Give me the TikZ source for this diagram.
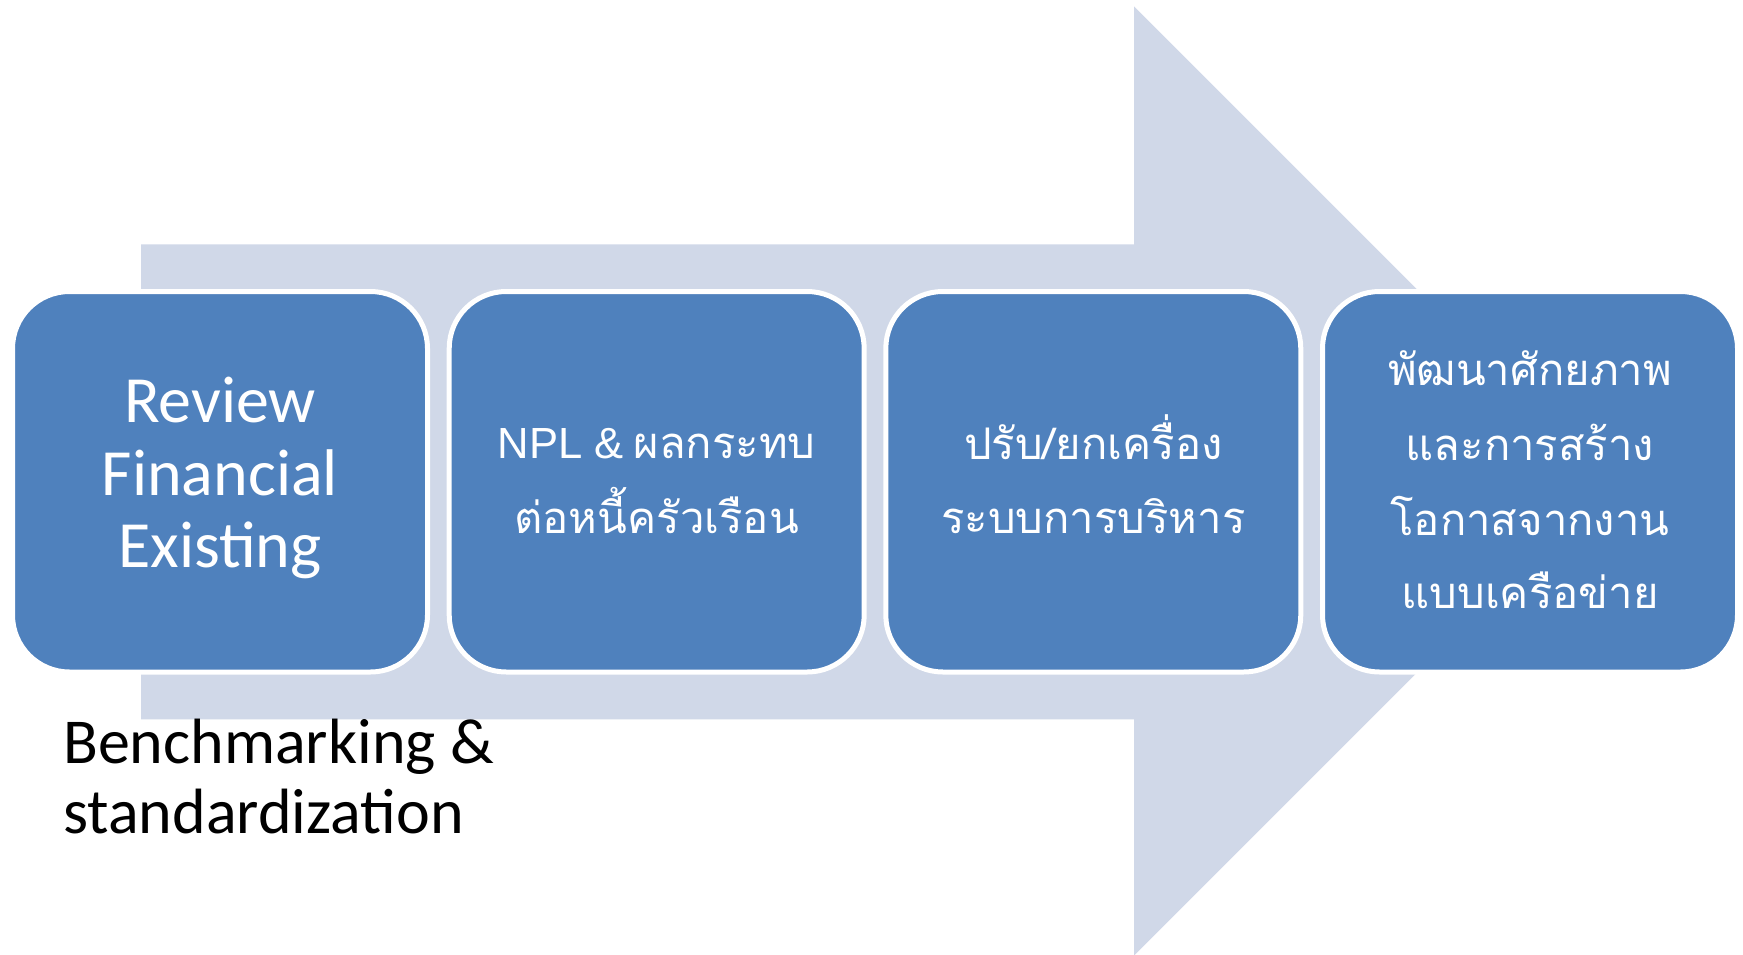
\documentclass[tikz,border=0pt]{standalone}
\usepackage{fontspec}
\setmainfont{Carlito}
\newfontfamily\thaifont[Script=Thai]{Loma}
\newfontfamily\latinfont{Liberation Sans}
\definecolor{arrowfill}{HTML}{D0D8E8}
\definecolor{boxfill}{HTML}{4F81BD}
\tikzset{
  stepbox/.style={rectangle, rounded corners=57pt, fill=boxfill, draw=white, line width=5pt,
    minimum width=415pt, minimum height=380.5pt, inner sep=0pt},
  bigtxt/.style={text=white, font=\fontsize{66}{71}\selectfont, anchor=base, inner sep=0pt},
  thaitxt/.style={text=white, font=\fontsize{43.6}{75}\selectfont, anchor=base, inner sep=0pt},
  blacktxt/.style={text=black, font=\fontsize{64}{71}\selectfont, anchor=base west, inner sep=0pt}
}
\begin{document}
\begin{tikzpicture}[x=1pt,y=-1pt]
\useasboundingbox (0,0) rectangle (1743,955);
\fill[white] (0,0) rectangle (1743,955);
% big arrow
\fill[arrowfill] (141,244.3) -- (1134,244.3) -- (1134,6.5) -- (1608.5,481) -- (1134,955.5)
  -- (1134,719.3) -- (141,719.3) -- cycle;
% boxes
\node[stepbox] (b1) at (220,481.75) {};
\node[stepbox] (b2) at (656.7,481.75) {};
\node[stepbox] (b3) at (1093.3,481.75) {};
\node[stepbox] (b4) at (1530,481.75) {};
% box 1 text
\node[bigtxt] (t1a) at (220,422.5) {Review};
\node[bigtxt] (t1b) at (220,495) {Financial};
\node[bigtxt] (t1c) at (220,567.5) {Existing};
% box 2 text
\node[thaitxt] (t2a) at (656.7,458) {{\latinfont NPL \&} {\thaifont ผลกระทบ}};
\node[thaitxt] (t2b) at (656.7,533) {\thaifont ต่อหนี้ครัวเรือน};
% box 3 text
\node[thaitxt] (t3a) at (1093.3,459) {\thaifont ปรับ/ยกเครื่อง};
\node[thaitxt] (t3b) at (1093.3,533) {\thaifont ระบบการบริหาร};
% box 4 text
\node[thaitxt] (t4a) at (1530,385) {\thaifont พัฒนาศักยภาพ};
\node[thaitxt] (t4b) at (1530,460) {\thaifont และการสร้าง};
\node[thaitxt] (t4c) at (1530,535) {\thaifont โอกาสจากงาน};
\node[thaitxt] (t4d) at (1530,608) {\thaifont แบบเครือข่าย};
% bottom label
\node[blacktxt] (bm1) at (63,763) {Benchmarking \&};
\node[blacktxt] (bm2) at (63,833) {standardization};
\end{tikzpicture}
\end{document}
